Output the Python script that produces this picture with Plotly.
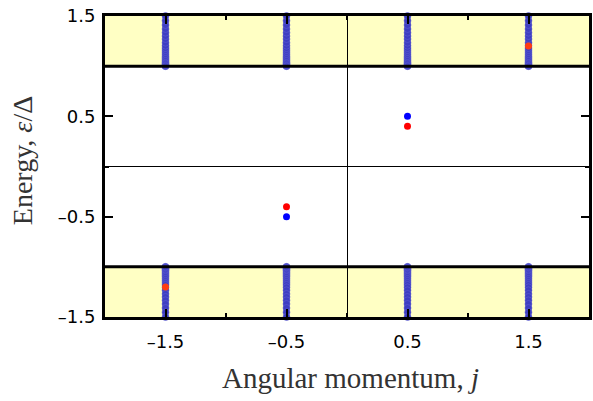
import plotly.graph_objects as go

# ---- data ----
j_values = [-1.5, -0.5, 0.5, 1.5]
# continuum (band) levels above the gap
continuum_levels = [1.0, 1.005, 1.01, 1.02, 1.03, 1.04, 1.055, 1.07, 1.085, 1.10,
                    1.12, 1.14, 1.16, 1.18, 1.204, 1.234, 1.27, 1.30, 1.334,
                    1.37, 1.41, 1.453, 1.5]
bound_blue_j = [-0.5, 0.5]
bound_blue_E = [-0.5, 0.5]
bound_red_j = [-0.5, 0.5]
bound_red_E = [-0.4, 0.4]
band_red_j = [-1.5, 1.5]
band_red_E = [-1.2, 1.2]
gap_edge = 1.0
y_ticks = [-1.5, -0.5, 0.5, 1.5]
x_ticks = [-1.5, -0.5, 0.5, 1.5]
tick_text = ["–1.5", "–0.5", "0.5", "1.5"]

cont_x, cont_y = [], []
for j in j_values:
    for e in continuum_levels:
        cont_x += [j, j]
        cont_y += [e, -e]

fig = go.Figure()
fig.add_trace(go.Scatter(x=cont_x, y=cont_y, mode="markers",
                         marker=dict(color="rgb(62,62,194)", size=7,
                                     line=dict(color="rgb(100,100,210)", width=0.5)),
                         cliponaxis=False, showlegend=False, hoverinfo="skip"))
fig.add_trace(go.Scatter(x=band_red_j, y=band_red_E, mode="markers",
                         marker=dict(color="#FF3C10", size=7), showlegend=False))
fig.add_trace(go.Scatter(x=bound_blue_j, y=bound_blue_E, mode="markers",
                         marker=dict(color="#0000FF", size=7), showlegend=False))
fig.add_trace(go.Scatter(x=bound_red_j, y=bound_red_E, mode="markers",
                         marker=dict(color="#FF0000", size=7), showlegend=False))

shapes = [
    dict(type="rect", xref="paper", yref="y", x0=0, x1=1, y0=gap_edge, y1=1.5,
         fillcolor="#FFFFC4", line_width=0, layer="below"),
    dict(type="rect", xref="paper", yref="y", x0=0, x1=1, y0=-1.5, y1=-gap_edge,
         fillcolor="#FFFFC4", line_width=0, layer="below"),
    dict(type="line", xref="paper", yref="y", x0=0, x1=1, y0=gap_edge, y1=gap_edge,
         line=dict(color="black", width=3), layer="above"),
    dict(type="line", xref="paper", yref="y", x0=0, x1=1, y0=-gap_edge, y1=-gap_edge,
         line=dict(color="black", width=3), layer="above"),
]

tickfont = dict(family="DejaVu Sans", size=18, color="black")
axis_common = dict(ticks="inside", ticklen=8, tickwidth=2, tickcolor="black",
                   showline=True, linewidth=3, linecolor="black", mirror="ticks",
                   showgrid=False, zeroline=True, zerolinecolor="black", zerolinewidth=1,
                   tickfont=tickfont, ticklabeloverflow="allow",
                   minor=dict(tickvals=[-1, 0, 1], ticks="inside", ticklen=4, tickwidth=2,
                              tickcolor="black", showgrid=False))
fig.update_layout(
    width=593, height=401,
    margin=dict(l=105, r=1, t=16, b=84),
    plot_bgcolor="white", paper_bgcolor="white",
    shapes=shapes,
    xaxis=dict(range=[-2, 2], tickvals=x_ticks, ticktext=tick_text,
               ticklabelstandoff=6, **axis_common),
    yaxis=dict(range=[-1.5, 1.5], tickvals=y_ticks, ticktext=tick_text,
               ticklabelstandoff=3, **axis_common),
    annotations=[
        dict(text="Angular momentum, <i>j</i>", xref="paper", yref="paper",
             x=0.507, y=-0.203, xanchor="center", yanchor="middle", showarrow=False,
             font=dict(family="Liberation Serif", size=29, color="#333")),
        dict(text="Energy, <i>ε</i>/Δ", xref="paper", yref="paper",
             x=-0.17, y=0.52, xanchor="center", yanchor="middle", textangle=-90,
             showarrow=False, font=dict(family="Liberation Serif", size=28, color="#333")),
    ],
)
fig.write_html("out.html", config={"displayModeBar": False},
               post_script="document.body.style.margin='0';")
